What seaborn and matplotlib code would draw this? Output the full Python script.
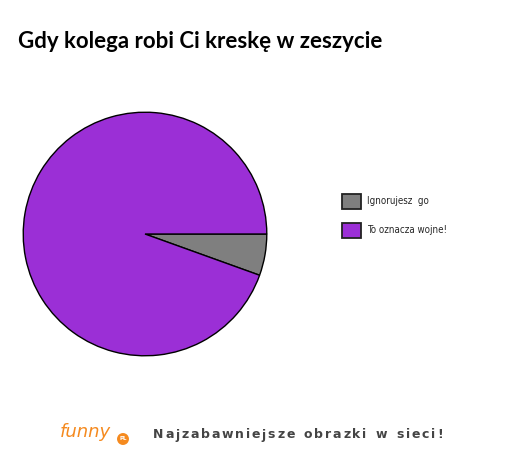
import numpy as np
import matplotlib
matplotlib.use("Agg")
import matplotlib.pyplot as plt
import matplotlib.patches as mpatches
import seaborn as sns

# Data
labels = ["Ignorujesz  go", "To oznacza wojne!"]
values = [5.5, 94.5]
colors = ["#7f7f7f", "#9b2fd6"]
title = "Gdy kolega robi Ci kreskę w zeszycie"
slogan = "Najzabawniejsze obrazki w sieci!"

sns.set_theme(style="white")
plt.rcParams['font.family'] = ['DejaVu Sans']

W, H = 512, 455
fig = plt.figure(figsize=(W / 100, H / 100), dpi=100)
fig.patch.set_facecolor("white")

# pie axes: centre ~ (145, 234) px, radius ~ 123 px
cx, cy, r = 145, 234, 123
ax = fig.add_axes([(cx - r) / W, (H - cy - r) / H, 2 * r / W, 2 * r / H])
ax.pie(values, colors=colors, startangle=0, counterclock=False,
       wedgeprops=dict(edgecolor="black", linewidth=1.0))
ax.set_xlim(-1.01, 1.01)
ax.set_ylim(-1.01, 1.01)
ax.set_aspect("equal")
ax.axis("off")

# title
fig.text(18 / W, 1 - 48 / H, title, fontsize=16, fontweight="bold",
         family=["Lato", "DejaVu Sans"], va="baseline", ha="left", color="black")

# legend
handles = [mpatches.Patch(facecolor=c, edgecolor="#222222", linewidth=1.3) for c in colors]
fig.legend(handles, labels, loc="upper left", bbox_to_anchor=(333 / W, 1 - 185 / H),
           frameon=False,
           prop=dict(family=["DejaVu Sans"], size=7, stretch="condensed", weight="medium"),
           handlelength=2.0, handleheight=2.0, labelspacing=1.45, handletextpad=0.6)

# logo
fig.text(60 / W, 1 - 432 / H, "funny", fontsize=13, color="#f58a1f",
         family=["DejaVu Sans"], style="italic", va="center", ha="left")
fig.text(123 / W, 1 - 439 / H, "PL", fontsize=4, color="white", fontweight="bold",
         va="center", ha="center",
         bbox=dict(boxstyle="circle,pad=0.4", facecolor="#f58a1f", edgecolor="none"))

# slogan with letter spacing, drawn char by char
fig.canvas.draw()
renderer = fig.canvas.get_renderer()
x = 153
y = 1 - 435 / H
for ch in slogan:
    t = fig.text(x / W, y, ch, fontsize=9, fontweight="bold", color="#444444",
                 family=["DejaVu Sans"], va="center", ha="left")
    if ch == " ":
        x += 7.5
    else:
        w = t.get_window_extent(renderer).width
        x += w + 1.8

fig.savefig("out.png", dpi=100, facecolor="white")
